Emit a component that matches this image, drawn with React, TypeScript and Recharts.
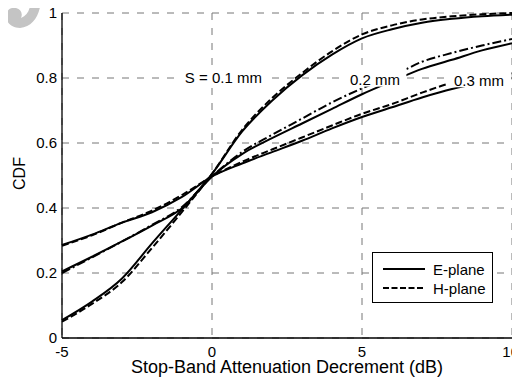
import React from 'react';
import { LineChart, Line, XAxis, YAxis, CartesianGrid, ReferenceDot, Legend } from 'recharts';

// Stop-band attenuation decrement (dB)
const xValues = [-5, -4, -3, -2, -1, 0, 1, 2, 3, 4, 5, 6, 7, 8, 9, 10];
// S = 0.1 mm
const s01E = [0.055, 0.112, 0.183, 0.291, 0.396, 0.505, 0.635, 0.73, 0.808, 0.872, 0.922, 0.95, 0.97, 0.982, 0.99, 0.995];
const s01H = [0.05, 0.105, 0.172, 0.277, 0.388, 0.505, 0.64, 0.738, 0.815, 0.882, 0.934, 0.962, 0.98, 0.99, 0.996, 1.0];
// S = 0.2 mm
const s02E = [0.205, 0.25, 0.297, 0.346, 0.399, 0.497, 0.566, 0.615, 0.66, 0.705, 0.75, 0.79, 0.828, 0.856, 0.885, 0.907];
const s02H = [0.2, 0.248, 0.297, 0.348, 0.403, 0.497, 0.572, 0.625, 0.675, 0.725, 0.768, 0.805, 0.85, 0.877, 0.9, 0.92];
// S = 0.3 mm
const s03E = [0.286, 0.318, 0.355, 0.387, 0.434, 0.497, 0.537, 0.572, 0.607, 0.645, 0.68, 0.71, 0.74, 0.766, 0.785, 0.8];
const s03H = [0.284, 0.316, 0.355, 0.392, 0.44, 0.497, 0.542, 0.58, 0.617, 0.654, 0.69, 0.72, 0.755, 0.785, 0.8, 0.815];

const xTicks = [-5, 0, 5, 10];
const yTicks = [0, 0.2, 0.4, 0.6, 0.8, 1];

const annotationTexts = ['S = 0.1 mm', '0.2 mm', '0.3 mm'];
const annotationX = [0.38, 5.43, 8.9];
const annotationY = [0.801, 0.795, 0.793];

const data = xValues.map((x, i) => ({
  x,
  s01E: s01E[i],
  s01H: s01H[i],
  s02E: s02E[i],
  s02H: s02H[i],
  s03E: s03E[i],
  s03H: s03H[i],
}));

const FONT = '"Liberation Sans", Arial, Helvetica, sans-serif';
const DASH = '7 3';
const DASHDOT = '9 3 2 3';
const boxWidths = [94, 63, 65];

const dashByKey: Record<string, string | undefined> = {
  s01E: undefined,
  s01H: '6 2.5',
};

const LegendBox = (props: any) => {
  const items = (props.payload || []).filter((it: any) => it.type !== 'none' && dashByKey.hasOwnProperty(it.dataKey));
  return (
    <svg width={121} height={51} style={{ display: 'block' }}>
      <rect x={0.5} y={0.5} width={120} height={50} fill="#fff" stroke="#000" strokeWidth={1} />
      {items.map((it: any, i: number) => (
        <g key={i}>
          <line
            x1={11}
            x2={53}
            y1={17 + i * 19}
            y2={17 + i * 19}
            stroke="#000"
            strokeWidth={2}
            strokeDasharray={dashByKey[it.dataKey]}
          />
          <text x={61} y={17 + i * 19} dominantBaseline="central" fontSize={15} fontFamily={FONT} fill="#000">
            {it.value}
          </text>
        </g>
      ))}
    </svg>
  );
};

const makeAnnotation = (text: string, w: number) => (p: any) => (
  <g>
    <rect x={p.cx - w / 2} y={p.cy - 12} width={w} height={19} fill="#fff" />
    <text x={p.cx} y={p.cy} textAnchor="middle" dominantBaseline="central" fontSize={15} fontFamily={FONT} fill="#000">
      {text}
    </text>
  </g>
);

const XTick = (p: any) => {
  const last = p.payload.value === xTicks[xTicks.length - 1];
  return (
    <text x={last ? p.x + 7 : p.x} y={p.y} dy="0.71em" textAnchor={last ? 'end' : 'middle'} fontSize={15} fontFamily={FONT} fill="#000">
      {p.payload.value}
    </text>
  );
};

const YTick = (p: any) => (
  <text x={p.x} y={p.y} dy="0.355em" textAnchor="end" fontSize={15} fontFamily={FONT} fill="#000">
    {p.payload.value}
  </text>
);

const YTitle = (p: any) => {
  const vb = p.viewBox || { x: 0, y: 0, width: 0, height: 0 };
  const cx = vb.x + 11;
  const cy = vb.y + vb.height / 2 - 2;
  return (
    <text x={cx} y={cy} transform={`rotate(-90, ${cx}, ${cy})`} textAnchor="middle" dominantBaseline="central" fontSize={16} fontFamily={FONT} fill="#000">
      CDF
    </text>
  );
};

const XTitle = (p: any) => {
  const vb = p.viewBox || { x: 0, y: 0, width: 0, height: 0 };
  return (
    <text x={vb.x + vb.width / 2} y={vb.y + 35} textAnchor="middle" fontSize={18} fontFamily={FONT} fill="#000">
      Stop-Band Attenuation Decrement (dB)
    </text>
  );
};

export default function App() {
  return (
    <div style={{ width: 512, height: 375, position: 'relative' }}>
      <svg width={42} height={30} style={{ position: 'absolute', left: -8, top: -8 }}>
        <path
          d="M 30 0 L 41 0 C 40 15 33 27 20 28 C 11 28 6 22 6 16 C 6 10 11 7 16 8 C 21 9 23 14 21 18 C 28 15 31 8 30 0 Z"
          fill="#c4c4c4"
        />
      </svg>
      <LineChart width={512} height={375} data={data} margin={{ top: 5, right: 8, left: 0, bottom: 0 }}>
        <CartesianGrid stroke="#777" strokeDasharray="7 8" strokeWidth={1} />
        <XAxis
          dataKey="x"
          type="number"
          domain={[-5, 10]}
          ticks={xTicks}
          interval={0}
          height={45}
          tick={XTick}
          tickLine={false}
          axisLine={{ stroke: '#000', strokeWidth: 1.3 }}
          label={XTitle}
        />
        <XAxis
          xAxisId="top"
          orientation="top"
          type="number"
          domain={[-5, 10]}
          height={0}
          tick={false}
          tickLine={false}
          axisLine={{ stroke: '#000', strokeWidth: 1.3 }}
        />
        <YAxis
          type="number"
          domain={[0, 1]}
          ticks={yTicks}
          interval={0}
          width={54}
          tick={YTick}
          tickLine={false}
          tickSize={3}
          tickMargin={2}
          axisLine={{ stroke: '#000', strokeWidth: 1.3 }}
          label={YTitle}
        />
        <YAxis
          yAxisId="right"
          orientation="right"
          type="number"
          domain={[0, 1]}
          width={0}
          tick={false}
          tickLine={false}
          axisLine={{ stroke: '#000', strokeWidth: 1.3 }}
        />
        <Line type="monotone" dataKey="s01E" name="E-plane" stroke="#000" strokeWidth={2} dot={false} isAnimationActive={false} />
        <Line type="monotone" dataKey="s01H" name="H-plane" stroke="#000" strokeWidth={2} strokeDasharray={DASH} dot={false} isAnimationActive={false} />
        <Line type="monotone" dataKey="s02E" stroke="#000" strokeWidth={2} dot={false} legendType="none" isAnimationActive={false} />
        <Line type="monotone" dataKey="s02H" stroke="#000" strokeWidth={2} strokeDasharray={DASHDOT} dot={false} legendType="none" isAnimationActive={false} />
        <Line type="monotone" dataKey="s03E" stroke="#000" strokeWidth={2} dot={false} legendType="none" isAnimationActive={false} />
        <Line type="monotone" dataKey="s03H" stroke="#000" strokeWidth={2} strokeDasharray={DASH} dot={false} legendType="none" isAnimationActive={false} />
        {annotationTexts.map((t, i) => (
          <ReferenceDot
            key={t}
            x={annotationX[i]}
            y={annotationY[i]}
            r={0}
            shape={makeAnnotation(t, boxWidths[i])}
          />
        ))}
        <Legend
          layout="vertical"
          align="center"
          verticalAlign="middle"
          content={LegendBox}
          wrapperStyle={{ left: 364, top: 244, width: 121, height: 51 }}
        />
      </LineChart>
    </div>
  );
}
